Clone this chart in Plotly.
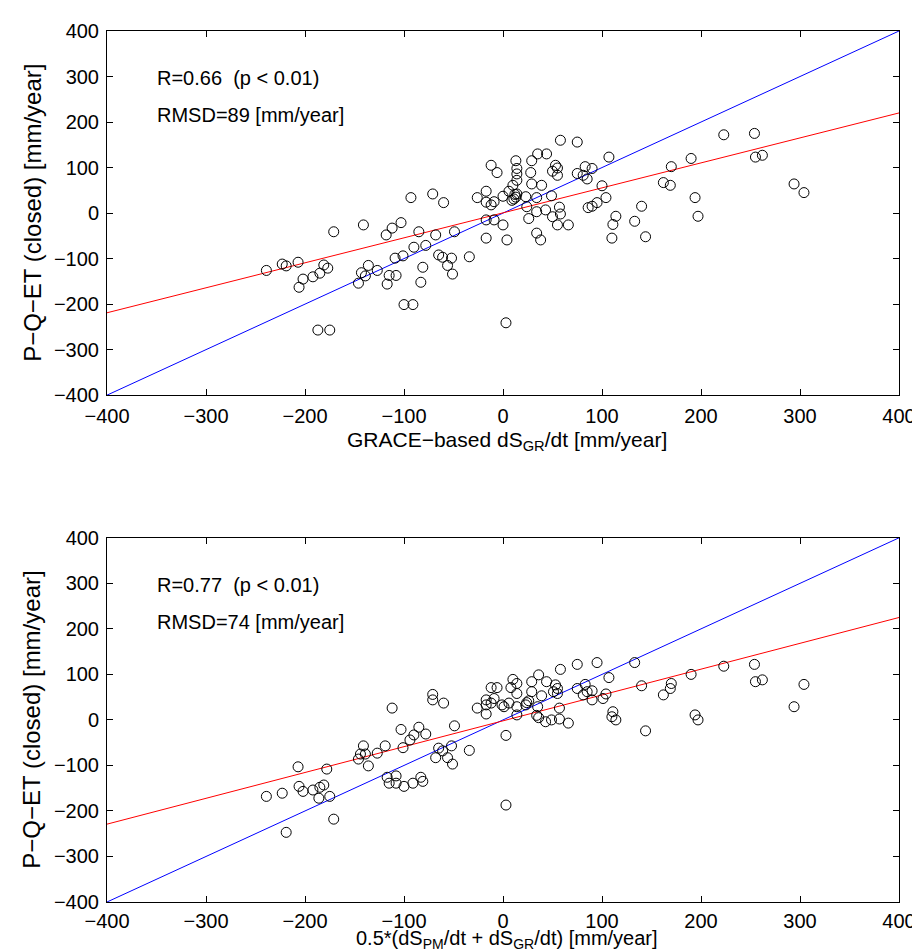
import plotly.graph_objects as go

# ---------------- data ----------------
x_top = [-239, -223, -219, -207, -202, -206, -192, -185, -181, -177, -171, -187, -175,
         -143, -146, -139, -136, -141, -127, -118, -112, -103, -100, -91, -93, -71, -60, -85, -68,
         -49, -90, -78, -101, -109, -115, -108, -117, -81, -83, -65, -61, -52, -56, -51, -34,
         -26, -17, -17, -12, -9, -12, -6, -17, -17, -9, 0, 0, 4, 3, 6, 10, 9, 11, 13, 14,
         12, 13, 14, 14, 14, 23, 24, 26, 28, 29, 29, 34, 34, 34, 35, 38, 39, 43, 44, 49,
         50, 50, 53, 55, 55, 55, 57, 58, 58, 66, 75, 75, 81, 83, 85, 86, 90, 90, 95, 100,
         104, 107, 110, 111, 114,
         133, 140, 144, 162, 169, 170, 190, 194, 197, 223, 254, 255, 262, 294, 304]
y_top = [-126, -112, -116, -108, -145, -163, -140, -132, -114, -121, -41, -257, -257,
         -131, -154, -138, -115, -26, -126, -48, -33, -21, -201, -201, 34, 42, 23, -41, -48,
         -41, -75, -71, -94, -99, -137, -137, -156, -119, -152, -92, -97, -99, -115, -134, -96,
         34, 48, 24, 18, 25, 105, 89, -55, -15, -15, 37, -26, -59, -241, 48, 61, 28, 31, 35, 42,
         41, 115, 98, 86, 72, 36, 14, -12, 89, 115, 64, 34, 3, -44, 130, -59, 61, 7, 130, 38,
         -8, 92, 105, 99, 83, -26, 13, -2, 160, -26, 156, 87, 83, 102, 75, 12, 98, 15, 23, 60,
         34, 123, -55, -25, -7,
         -18, 15, -52, 67, 61, 102, 120, 34, -7, 172, 175, 123, 127, 64, 45]

x_bot = [-239, -223, -219, -207, -206, -202, -192, -186, -185, -181, -178, -175, -171,
         -141, -144, -139, -127, -146, -136,
         -119, -112, -103, -101, -117, -115, -108, -108, -100,
         -94, -90, -85, -78, -91, -83, -81,
         -71, -71, -60, -49, -65, -61, -52, -56, -68, -51, -34,
         -26, -17, -9, -17, -12, -17, -12, -6, -1, 1, 3, 3, 6, 8, 10, 14, 14, 14, 14,
         23, 24, 26, 29, 29, 35, 34, 36, 36, 39, 43, 44, 49, 53, 55, 51, 55, 57, 57, 58,
         66, 75, 75, 81, 83, 85, 90, 90, 95, 101, 104, 107, 111, 110, 114,
         133, 140, 144, 162, 169, 170, 190, 194, 197, 223, 254, 255, 262, 294, 304]
y_bot = [-168, -161, -247, -103, -146, -157, -154, -172, -148, -143, -108, -168, -218,
         -57, -75, -75, -73, -86, -101,
         -57, 26, -21, -61, -126, -139, -123, -139, -146,
         -44, -33, -16, -31, -139, -126, -135,
         56, 44, 37, -13, -62, -68, -57, -83, -83, -97, -67,
         26, 44, 47, 33, 37, 13, 71, 71, 33, 29, -34, -187, 37, 71, 89, 80, 58, 29, 11,
         33, 38, 42, 84, 62, 29, 10, 5, 99, 53, -4, 84, 0, 77, 69, 62, 58, 2, 26, 111,
         -7, 122, 69, 55, 78, 62, 64, 44, 126, 47, 57, 93, 18, 7, 0,
         126, 75, -24, 55, 69, 80, 100, 11, 0, 118, 122, 84, 88, 29, 78]

line_x = [-400, 400]
one_to_one_y = [-400, 400]
fit_top_y = [-219, 220]
fit_bot_y = [-229, 225]

tick_vals = [-400, -300, -200, -100, 0, 100, 200, 300, 400]

stats_top = ["R=0.66&nbsp; (p &lt; 0.01)", "RMSD=89 [mm/year]"]
stats_bot = ["R=0.77&nbsp; (p &lt; 0.01)", "RMSD=74 [mm/year]"]
stats_y = [297, 215]

xtitle_top = "GRACE\u2212based dS<sub>GR</sub>/dt [mm/year]"
xtitle_bot = "0.5*(dS<sub>PM</sub>/dt + dS<sub>GR</sub>/dt) [mm/year]"
ytitle = "P\u2212Q\u2212ET (closed) [mm/year]"

# ---------------- figure ----------------
FONT = "Liberation Sans, Arial, Helvetica, sans-serif"
fig = go.Figure()

for (xs, ys, fy, xa, ya) in [(x_top, y_top, fit_top_y, "x", "y"),
                             (x_bot, y_bot, fit_bot_y, "x2", "y2")]:
    fig.add_trace(go.Scatter(x=line_x, y=one_to_one_y, mode="lines",
                             line=dict(color="rgb(0,0,255)", width=1),
                             xaxis=xa, yaxis=ya, showlegend=False, hoverinfo="skip"))
    fig.add_trace(go.Scatter(x=line_x, y=fy, mode="lines",
                             line=dict(color="rgb(255,0,0)", width=1),
                             xaxis=xa, yaxis=ya, showlegend=False, hoverinfo="skip"))
    fig.add_trace(go.Scatter(x=xs, y=ys, mode="markers",
                             marker=dict(symbol="circle-open", size=10,
                                         color="black", line=dict(color="black", width=1)),
                             xaxis=xa, yaxis=ya, showlegend=False))

axis_common = dict(range=[-400, 400], tickvals=tick_vals, showline=True, linecolor="black",
                   linewidth=1, mirror="allticks", ticks="inside", ticklen=6,
                   tickcolor="black", tickwidth=1, showgrid=False, zeroline=False,
                   tickfont=dict(family=FONT, size=20, color="black"))

fig.update_layout(
    width=920, height=951,
    margin=dict(l=99, r=21, t=21, b=57),
    paper_bgcolor="white", plot_bgcolor="white",
    font=dict(family=FONT, size=20, color="black"),
    xaxis=dict(domain=[0, 1], anchor="y", ticklabelstandoff=3, **axis_common),
    yaxis=dict(domain=[0.5819, 1], anchor="x", ticklabelstandoff=3, **axis_common),
    xaxis2=dict(domain=[0, 1], anchor="y2", ticklabelstandoff=1, **axis_common),
    yaxis2=dict(domain=[0, 0.4181], anchor="x2", ticklabelstandoff=3, **axis_common),
)

annotations = []
for (stats, xr, yr) in [(stats_top, "x", "y"), (stats_bot, "x2", "y2")]:
    for txt, yv in zip(stats, stats_y):
        annotations.append(dict(text=txt, x=-352, y=yv, xref=xr, yref=yr,
                                xanchor="left", yanchor="middle", showarrow=False,
                                font=dict(family=FONT, size=20, color="black")))
for (txt, xr, yr, ys, fs) in [(xtitle_top, "x domain", "y domain", -32, 21),
                              (xtitle_bot, "x2 domain", "y2 domain", -24, 20)]:
    annotations.append(dict(text=txt, x=0.505, y=0, xref=xr, yref=yr,
                            xanchor="center", yanchor="top", yshift=ys, showarrow=False,
                            borderpad=0,
                            font=dict(family=FONT, size=fs, color="black")))
for (xr, yr) in [("x domain", "y domain"), ("x2 domain", "y2 domain")]:
    annotations.append(dict(text=ytitle, x=-0.095, y=0.5, xref=xr, yref=yr,
                            xanchor="center", yanchor="middle", textangle=-90, showarrow=False,
                            font=dict(family=FONT, size=24, color="black")))
fig.update_layout(annotations=annotations)

fig.write_html("out.html")
